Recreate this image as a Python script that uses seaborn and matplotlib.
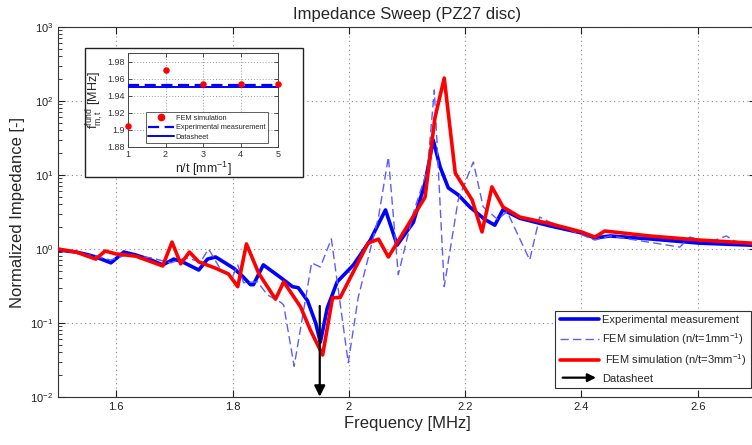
import numpy as np
import pandas as pd
import matplotlib
matplotlib.use("Agg")
import matplotlib.pyplot as plt
import seaborn as sns
from matplotlib.lines import Line2D
from matplotlib.patches import FancyArrowPatch, Rectangle
from matplotlib.legend_handler import HandlerBase

# ---- measured impedance sweep ----
exp_freq = [1.500, 1.531, 1.553, 1.565, 1.591, 1.605, 1.613, 1.634, 1.660, 1.680,
            1.699, 1.714, 1.742, 1.757, 1.771, 1.802, 1.817, 1.831, 1.836, 1.853,
            1.883, 1.903, 1.913, 1.929, 1.943, 1.951, 1.963, 1.980, 2.008, 2.037,
            2.063, 2.083, 2.111, 2.131, 2.145, 2.157, 2.171, 2.188, 2.208, 2.234,
            2.251, 2.265, 2.294, 2.346, 2.400, 2.423, 2.449, 2.517, 2.603, 2.700]
exp_z = [0.97, 0.91, 0.83, 0.78, 0.65, 0.80, 0.91, 0.83, 0.71, 0.61,
         0.73, 0.67, 0.52, 0.73, 0.78, 0.55, 0.43, 0.33, 0.33, 0.61,
         0.41, 0.31, 0.30, 0.20, 0.10, 0.055, 0.16, 0.36, 0.61, 1.32,
         3.37, 1.13, 2.3, 7.8, 29.7, 12.8, 6.7, 5.4, 3.7, 2.5,
         2.1, 3.4, 2.6, 2.05, 1.65, 1.41, 1.5, 1.37, 1.2, 1.12]

# ---- FEM, n/t = 1 mm^-1 ----
fem1_freq = [1.500, 1.531, 1.565, 1.591, 1.617, 1.660, 1.694, 1.720, 1.745, 1.759,
             1.780, 1.800, 1.809, 1.819, 1.843, 1.860, 1.883, 1.888, 1.906, 1.936,
             1.951, 1.970, 1.999, 2.016, 2.051, 2.068, 2.085, 2.111, 2.135, 2.147,
             2.164, 2.188, 2.214, 2.231, 2.256, 2.272, 2.311, 2.328, 2.346, 2.423,
             2.449, 2.569, 2.586, 2.620, 2.649, 2.663, 2.700]
fem1_z = [0.97, 0.88, 0.80, 0.71, 0.83, 0.76, 0.65, 0.76, 0.67, 1.0,
          0.52, 0.42, 0.61, 0.35, 0.36, 0.24, 0.19, 0.175, 0.026, 0.65,
          0.57, 1.37, 0.029, 0.22, 2.7, 17.5, 0.45, 3.1, 11.7, 141,
          0.31, 4.6, 15, 3.7, 2.5, 3.2, 0.71, 2.7, 2.3, 1.32,
          1.5, 1.06, 1.45, 1.24, 1.5, 1.28, 1.12]

# ---- FEM, n/t = 3 mm^-1 ----
fem3_freq = [1.500, 1.531, 1.565, 1.581, 1.599, 1.634, 1.680, 1.696, 1.711, 1.726,
             1.742, 1.771, 1.793, 1.809, 1.824, 1.845, 1.874, 1.888, 1.917, 1.934,
             1.955, 1.972, 1.985, 2.033, 2.051, 2.068, 2.131, 2.148, 2.164, 2.183,
             2.212, 2.229, 2.246, 2.265, 2.294, 2.346, 2.400, 2.423, 2.440, 2.517,
             2.603, 2.700]
fem3_z = [1.0, 0.91, 0.73, 0.94, 0.86, 0.80, 0.59, 1.24, 0.63, 0.91,
          0.67, 0.55, 0.46, 0.31, 1.17, 0.47, 0.21, 0.36, 0.165, 0.080,
          0.037, 0.22, 0.22, 1.2, 1.36, 0.78, 5.0, 59, 204, 10.6,
          4.6, 1.7, 6.9, 3.7, 2.7, 2.2, 1.70, 1.45, 1.75, 1.5,
          1.32, 1.19]

datasheet_freq = 1.95
arrow_top = 0.17

# ---- fundamental frequency vs. mesh density ----
mesh_density = [1, 2, 3, 4, 5]
fund_freq = [1.905, 1.970, 1.954, 1.954, 1.954]
fund_exp = 1.953
fund_datasheet = 1.950

sns.set_style("ticks")
plt.rcParams["font.family"] = ["Liberation Sans", "DejaVu Sans"]
plt.rcParams["mathtext.fontset"] = "custom"
plt.rcParams["mathtext.rm"] = "Liberation Sans"
plt.rcParams["mathtext.it"] = "Liberation Sans"

W, H = 752, 445
fig = plt.figure(figsize=(W / 100, H / 100), dpi=100)
fig.patch.set_facecolor("white")

def fx(px):
    return px / W

def fy(py):
    return 1 - py / H

ax = fig.add_axes([fx(58), fy(397), fx(756) - fx(58), fy(27) - fy(397)])

blue = "#0000ff"
red = "#ff0000"
light = "#5c5cff"

df_exp = pd.DataFrame({"f": exp_freq, "z": exp_z})
df_f1 = pd.DataFrame({"f": fem1_freq, "z": fem1_z})
df_f3 = pd.DataFrame({"f": fem3_freq, "z": fem3_z})

sns.lineplot(data=df_exp, x="f", y="z", ax=ax, color=blue, lw=2.6,
             estimator=None, sort=False, zorder=3)
sns.lineplot(data=df_f1, x="f", y="z", ax=ax, color=light, lw=1.0,
             estimator=None, sort=False, zorder=4, dashes=False)
ax.lines[-1].set_dashes([6, 3])
sns.lineplot(data=df_f3, x="f", y="z", ax=ax, color=red, lw=2.6,
             estimator=None, sort=False, zorder=5)

ax.annotate("", xy=(datasheet_freq, 0.0101), xytext=(datasheet_freq, arrow_top),
            arrowprops=dict(arrowstyle="-|>", color="black", lw=1.6,
                            mutation_scale=16, shrinkA=0, shrinkB=0),
            zorder=6)

ax.set_yscale("log")
ax.set_xlim(1.5, 2.7)
ax.set_ylim(1e-2, 1e3)
ax.set_xticks([1.6, 1.8, 2.0, 2.2, 2.4, 2.6])
ax.set_xticklabels(["1.6", "1.8", "2", "2.2", "2.4", "2.6"])
ax.set_yticks([1e-2, 1e-1, 1e0, 1e1, 1e2, 1e3])
ax.set_yticklabels([r"$10^{-2}$", r"$10^{-1}$", r"$10^{0}$", r"$10^{1}$",
                    r"$10^{2}$", r"$10^{3}$"])
ax.tick_params(axis="both", which="both", direction="in", top=True, right=True,
               labelsize=8, colors="#222222")
ax.tick_params(axis="both", which="major", length=5, width=0.8)
ax.tick_params(axis="y", which="minor", length=3, width=0.6)
ax.grid(True, which="major", ls=(0, (1, 3)), color="#888888", lw=0.8)
for s in ax.spines.values():
    s.set_color("#333333")
    s.set_linewidth(0.8)
ax.set_xlabel("Frequency [MHz]", fontsize=12, labelpad=3)
ax.set_ylabel("Normalized Impedance [-]", fontsize=12, labelpad=4)
ax.set_title("Impedance Sweep (PZ27 disc)", fontsize=12, pad=6)


class ArrowHandler(HandlerBase):
    def create_artists(self, legend, orig_handle, xdescent, ydescent,
                       width, height, fontsize, trans):
        y = -ydescent + height / 2
        arr = FancyArrowPatch((-xdescent, y), (-xdescent + width, y),
                              arrowstyle="-|>", mutation_scale=12,
                              color="black", lw=1.6, transform=trans)
        return [arr]


arrow_handle = FancyArrowPatch((0, 0), (1, 0))
handles = [
    Line2D([], [], color=blue, lw=2.6),
    Line2D([], [], color=light, lw=1.0, dashes=[6, 3]),
    Line2D([], [], color=red, lw=2.6),
    arrow_handle,
]
labels = [
    "Experimental measurement",
    r"FEM simulation (n/t=1mm$^{-1}$)",
    r" FEM simulation (n/t=3mm$^{-1}$)",
    "Datasheet",
]
leg = ax.legend(handles, labels, loc="lower right",
                bbox_to_anchor=(fx(751), fy(388)), bbox_transform=fig.transFigure,
                borderaxespad=0,
                fontsize=8, frameon=True, fancybox=False, edgecolor="#333333",
                framealpha=1, handlelength=3.5, handletextpad=0.3,
                labelspacing=0.5, borderpad=0.4,
                handler_map={FancyArrowPatch: ArrowHandler()})
leg.get_frame().set_linewidth(0.8)
leg.set_zorder(10)

# ---- inset panel ----
frame = Rectangle((fx(85), fy(177)), fx(303) - fx(85), fy(48) - fy(177),
                  transform=fig.transFigure, facecolor="white",
                  edgecolor="#222222", lw=1.0, zorder=20)
fig.patches.append(frame)

iax = fig.add_axes([fx(128), fy(147), fx(278) - fx(128), fy(53) - fy(147)])
iax.set_zorder(21)
df_in = pd.DataFrame({"n": mesh_density, "f": fund_freq})
iax.axhline(fund_exp, color=blue, lw=1.6, dashes=[5, 2.5], zorder=3)
iax.axhline(fund_datasheet, color=blue, lw=1.4, zorder=3)
sns.scatterplot(data=df_in, x="n", y="f", ax=iax, color=red, s=22,
                edgecolor=red, linewidth=0, zorder=6, clip_on=False)
iax.set_xlim(1, 5)
iax.set_ylim(1.88, 1.99)
iax.set_xticks([1, 2, 3, 4, 5])
iax.set_yticks([1.88, 1.90, 1.92, 1.94, 1.96, 1.98])
iax.set_yticklabels(["1.88", "1.9", "1.92", "1.94", "1.96", "1.98"])
iax.tick_params(axis="both", direction="in", labelsize=6.5, length=3,
                width=0.6, top=True, right=True, colors="#333333", pad=2)
iax.grid(True, ls=(0, (1, 2)), color="#999999", lw=0.7)
for s in iax.spines.values():
    s.set_color("#444444")
    s.set_linewidth(0.7)
iax.set_xlabel(r"n/t [mm$^{-1}$]", fontsize=9, labelpad=1)
iax.set_ylabel(r"f$^{\rm fund}_{\rm m,t}$ [MHz]", fontsize=9, labelpad=1)

ih = [
    Line2D([], [], color=red, marker="o", ls="none", markersize=4.5),
    Line2D([], [], color=blue, lw=1.6, dashes=[5, 2.5]),
    Line2D([], [], color=blue, lw=1.4),
]
il = ["FEM simulation", "Experimental measurement", "Datasheet"]
ileg = iax.legend(ih, il, loc="lower right", fontsize=5.3, frameon=True,
                  fancybox=False, edgecolor="#444444", framealpha=1,
                  handlelength=3.6, handletextpad=0.2, labelspacing=0.35,
                  borderpad=0.3, borderaxespad=0,
                  bbox_to_anchor=(0.93, 0.04))
ileg.get_frame().set_linewidth(0.6)
ileg.set_zorder(5)

fig.savefig("out.png", dpi=100, facecolor="white")
